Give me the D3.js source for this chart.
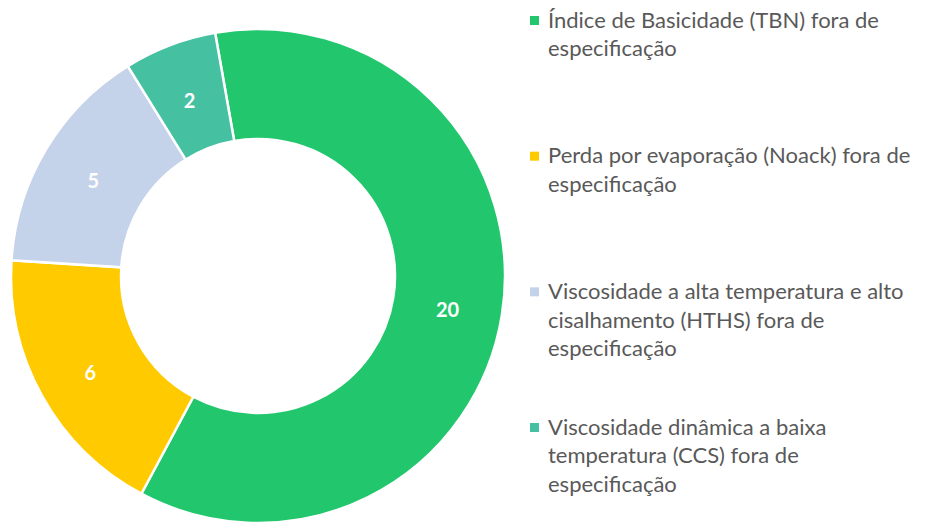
<!DOCTYPE html>
<html>
<head>
<meta charset="utf-8">
<style>
  body { margin: 0; background: #fff; }
  text { font-family: Lato, "Open Sans", sans-serif; }
</style>
</head>
<body>
<svg id="chart" width="927" height="525"></svg>
<script src="https://cdn.jsdelivr.net/npm/d3@7"></script>
<script>
// data
const categories = [
  ["Índice de Basicidade (TBN) fora de", "especificação"],
  ["Perda por evaporação (Noack) fora de", "especificação"],
  ["Viscosidade a alta temperatura e alto", "cisalhamento (HTHS) fora de", "especificação"],
  ["Viscosidade dinâmica a baixa", "temperatura (CCS) fora de", "especificação"]
]
const values = [20, 6, 5, 2]
const colors = ["#22c76d", "#ffca00", "#c5d3ea", "#45c1a1"]

const svg = d3.select("#chart")

let cx = 258, cy = 276
let outerR = 247, innerR = 137

let pie = d3.pie()
  .sort(null)
  .value(d => d)
  .startAngle(-10 * Math.PI / 180)
  .endAngle(350 * Math.PI / 180)

let arc = d3.arc().innerRadius(innerR).outerRadius(outerR)

let g = svg.append("g").attr("transform", `translate(${cx},${cy})`)

let slices = pie(values)

g.selectAll("path")
  .data(slices)
  .enter()
  .append("path")
    .attr("d", arc)
    .attr("fill", (d, i) => colors[i])
    .attr("stroke", "#fff")
    .attr("stroke-width", 2.5)

// value labels in the middle of the ring
g.selectAll("text.lbl")
  .data(slices)
  .enter()
  .append("text")
    .attr("class", "lbl")
    .attr("transform", d => `translate(${arc.centroid(d)})`)
    .attr("text-anchor", "middle")
    .attr("dy", "0.55em")
    .attr("fill", "#fff")
    .attr("font-weight", "bold")
    .attr("font-size", 20)
    .text(d => d.data)

// legend on the right
let legend = svg.append("g").attr("transform", "translate(530,0)")
let entryY = d3.scalePoint().domain(d3.range(categories.length)).range([20, 427])

let items = legend.selectAll("g")
  .data(categories)
  .enter()
  .append("g")
    .attr("transform", (d, i) => `translate(0,${entryY(i)})`)

items.append("rect")
  .attr("x", 0)
  .attr("y", -4)
  .attr("width", 9)
  .attr("height", 9)
  .attr("fill", (d, i) => colors[i])

items.append("text")
  .attr("x", 18)
  .attr("fill", "#595959")
  .attr("font-size", 22)
  .selectAll("tspan")
  .data(d => d)
  .enter()
  .append("tspan")
    .attr("x", 18)
    .attr("y", (d, i) => i * 28.5)
    .attr("dy", "0.35em")
    .text(d => d)
</script>
</body>
</html>
